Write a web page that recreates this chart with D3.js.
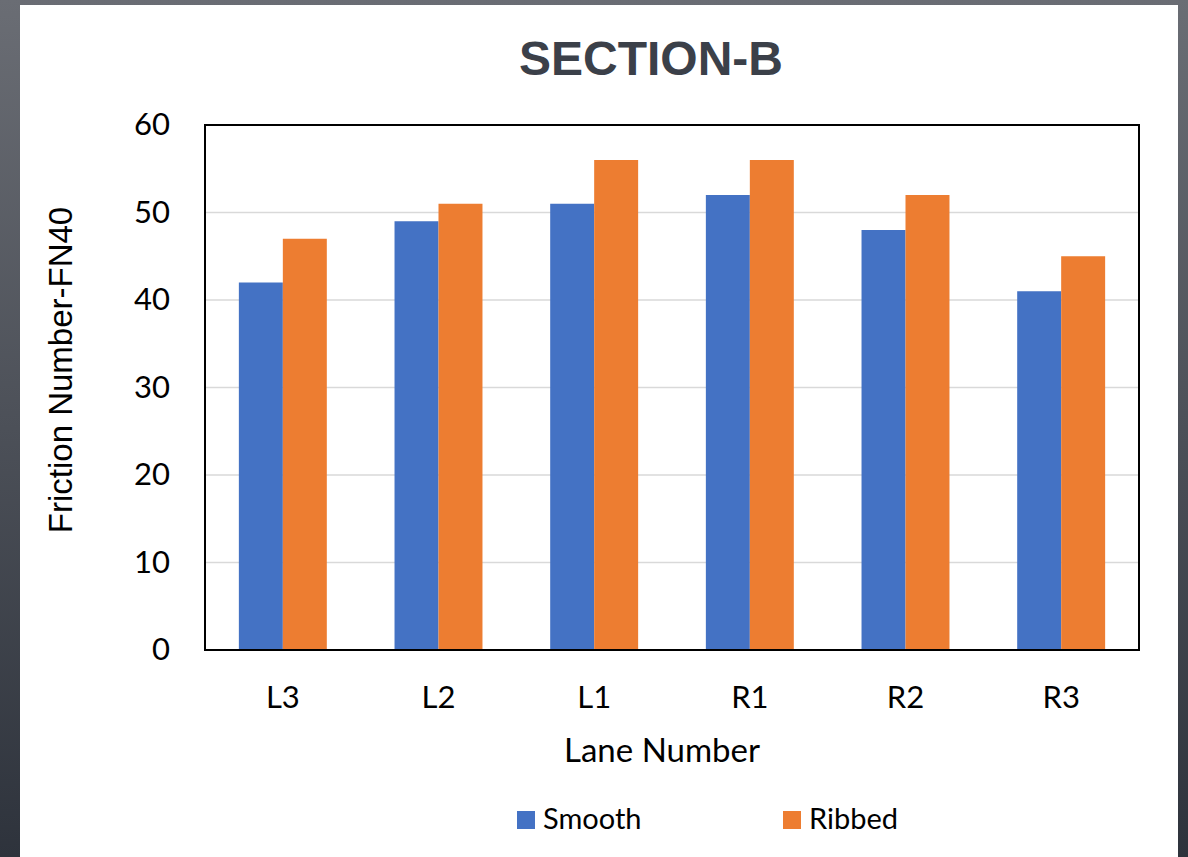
<!DOCTYPE html>
<html><head><meta charset="utf-8">
<script src="https://cdn.jsdelivr.net/npm/d3@7"></script>
<style>html,body{margin:0;padding:0;}body{width:1188px;height:857px;overflow:hidden;}</style>
</head><body>
<svg id="c" width="1188" height="857"></svg>
<script>
const categories = ["L3","L2","L1","R1","R2","R3"];
const seriesNames = ["Smooth","Ribbed"];
const smooth = [42,49,51,52,48,41];
const ribbed = [47,51,56,56,52,45];
const yTicks = [0,10,20,30,40,50,60];
const colors = ["#4472c4","#ed7d31"];

const svg = d3.select("#c");
const defs = svg.append("defs");
const g = defs.append("linearGradient").attr("id","bg").attr("x1",0).attr("y1",0).attr("x2",0).attr("y2",1);
g.append("stop").attr("offset","0%").attr("stop-color","#6a6d74");
g.append("stop").attr("offset","100%").attr("stop-color","#2e333c");
svg.append("rect").attr("width",1188).attr("height",857).attr("fill","url(#bg)");
svg.append("rect").attr("x",20).attr("y",5).attr("width",1158).attr("height",852).attr("fill","#fff");

const L=205, R=1139, T=125, B=650;
const x = d3.scaleBand().domain(categories).range([L,R]).paddingInner(0.435).paddingOuter(0.2175);
const xs = d3.scaleBand().domain(seriesNames).range([0,x.bandwidth()]);
const y = d3.scaleLinear().domain([0,60]).range([B,T]);

svg.append("g").selectAll("line").data(yTicks.filter(d=>d>0 && d<60)).join("line")
  .attr("x1",L).attr("x2",R).attr("y1",d=>y(d)).attr("y2",d=>y(d))
  .attr("stroke","#d9d9d9").attr("stroke-width",1.5);

const data = categories.map((c,i)=>({c, vals:[smooth[i],ribbed[i]]}));
const grp = svg.append("g").selectAll("g").data(data).join("g").attr("transform",d=>`translate(${x(d.c)},0)`);
grp.selectAll("rect").data(d=>d.vals.map((v,j)=>({v,s:seriesNames[j],j}))).join("rect")
  .attr("x",d=>xs(d.s)).attr("width",xs.bandwidth())
  .attr("y",d=>y(d.v)).attr("height",d=>B-y(d.v)).attr("fill",d=>colors[d.j]);

svg.append("rect").attr("x",L).attr("y",T).attr("width",R-L).attr("height",B-T)
  .attr("fill","none").attr("stroke","#000").attr("stroke-width",2);

const font = "Lato, 'Open Sans', sans-serif";
const ya = svg.append("g").attr("transform",`translate(${L},0)`).call(d3.axisLeft(y).tickValues(yTicks).tickSize(0).tickPadding(35));
ya.select(".domain").remove();
ya.selectAll("text").attr("font-family",font).attr("font-size",31).attr("fill","#000");
const xa = svg.append("g").attr("transform",`translate(0,${B})`).call(d3.axisBottom(x).tickSize(0));
xa.select(".domain").remove();
xa.selectAll("text").attr("font-family",font).attr("font-size",31).attr("fill","#000").attr("y",58).attr("dy",0);

svg.append("text").attr("x",651).attr("y",75).attr("text-anchor","middle")
  .attr("font-family","'Liberation Sans', Arial, sans-serif").attr("font-weight","bold").attr("font-size",48).attr("fill","#3b4049")
  .text("SECTION-B");
svg.append("text").attr("transform","translate(72,370) rotate(-90)").attr("text-anchor","middle")
  .attr("font-family","'Liberation Sans', Arial, sans-serif").attr("font-size",33).attr("fill","#000").text("Friction Number-FN40");
svg.append("text").attr("x",662).attr("y",762).attr("text-anchor","middle")
  .attr("font-family",font).attr("font-size",33).attr("fill","#000").text("Lane Number");

const legX = [517,783];
const lg = svg.append("g").selectAll("g").data(seriesNames).join("g").attr("transform",(d,i)=>`translate(${legX[i]},811)`);
lg.append("rect").attr("width",18).attr("height",18).attr("fill",(d,i)=>colors[i]);
lg.append("text").attr("x",26).attr("y",18).attr("font-family",font).attr("font-size",29).attr("fill","#000").text(d=>d);
</script>
</body></html>
